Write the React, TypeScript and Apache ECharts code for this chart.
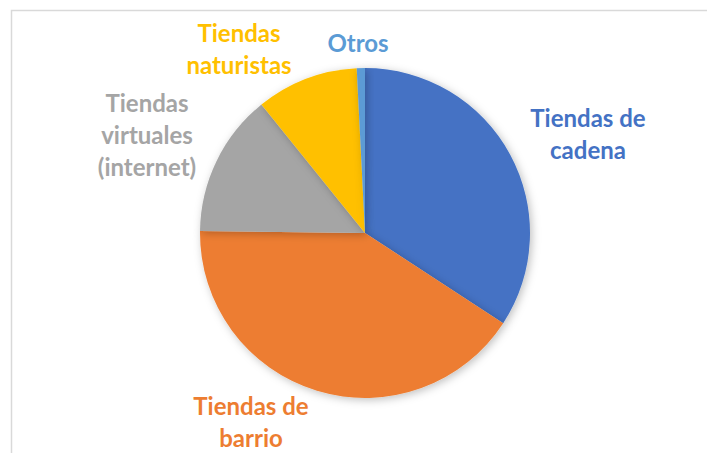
import React, { useEffect, useRef } from "react";
import * as echarts from "echarts";

const categories = [
  "Tiendas de\ncadena",
  "Tiendas de\nbarrio",
  "Tiendas\nvirtuales\n(internet)",
  "Tiendas\nnaturistas",
  "Otros",
];
const values = [34.2, 41.0, 14.0, 10.0, 0.8];
const colors = ["#4472C4", "#ED7D31", "#A5A5A5", "#FFC000", "#5B9BD5"];
const labelPos: [number, number][] = [
  [588, 133],
  [251, 421],
  [147, 134],
  [239, 48],
  [358, 42],
];

export default function App() {
  const ref = useRef<HTMLDivElement>(null);
  useEffect(() => {
    document.body.style.margin = "0";
    const chart = echarts.init(ref.current!, null, { renderer: "svg" });
    chart.setOption({
      animation: false,
      backgroundColor: "#ffffff",
      graphic: [
        {
          type: "rect",
          shape: { x: 11.5, y: 10.5, width: 760, height: 500 },
          style: { fill: "none", stroke: "#d9d9d9", lineWidth: 1.5 },
          silent: true,
        },
      ],
      series: [
        {
          type: "pie",
          center: [365, 233],
          radius: 165,
          startAngle: 90,
          clockwise: true,
          data: categories.map((name, i) => ({
            name,
            value: values[i],
            itemStyle: { color: colors[i] },
            label: { color: colors[i] },
          })),
          itemStyle: {
            borderWidth: 0,
            shadowBlur: 8,
            shadowOffsetX: 2,
            shadowOffsetY: 2,
            shadowColor: "rgba(0,0,0,0.25)",
          },
          label: {
            show: true,
            position: "outside",
            formatter: "{b}",
            fontFamily: "Lato",
            fontWeight: "bold",
            fontSize: 24,
            lineHeight: 32,
            align: "center",
          },
          labelLine: { show: false },
          labelLayout: (params: any) => {
            const p = labelPos[params.dataIndex];
            return { x: p[0], y: p[1], align: "center", verticalAlign: "middle" };
          },
        },
      ],
    });
    return () => chart.dispose();
  }, []);
  return <div ref={ref} style={{ width: 707, height: 453 }} />;
}
